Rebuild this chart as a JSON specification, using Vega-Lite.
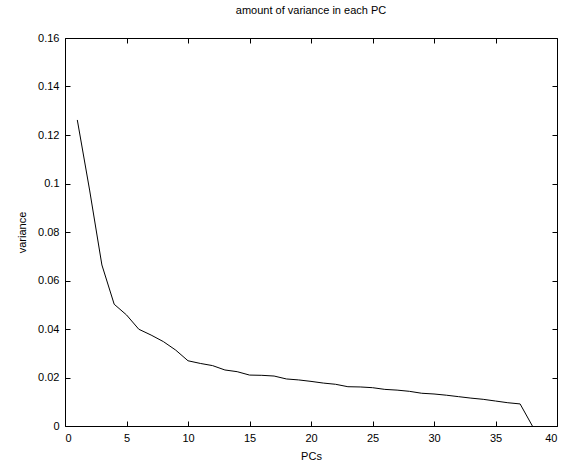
{
  "$schema": "https://vega.github.io/schema/vega-lite/v6.json",
  "width": 492,
  "height": 388,
  "autosize": "none",
  "padding": {"left": 65, "top": 38, "right": 10, "bottom": 42},
  "background": "white",
  "title": {"text": "amount of variance in each PC", "fontSize": 11, "font": "Liberation Sans", "fontWeight": "normal", "offset": 16, "color": "black"},
  "config": {
    "view": {"stroke": "black", "strokeWidth": 1},
    "axis": {"labelFont": "Liberation Sans", "titleFont": "Liberation Sans", "labelFontSize": 11, "titleFontSize": 11, "titleFontWeight": "normal", "labelColor": "black", "titleColor": "black", "tickColor": "black", "domainColor": "black", "grid": false, "domain": false}
  },
  "data": {"values": [
    {"pc": 1, "v": 0.1262}, {"pc": 2, "v": 0.0973}, {"pc": 3, "v": 0.0664}, {"pc": 4, "v": 0.0502},
    {"pc": 5, "v": 0.0458}, {"pc": 6, "v": 0.0399}, {"pc": 7, "v": 0.0375}, {"pc": 8, "v": 0.0348},
    {"pc": 9, "v": 0.0313}, {"pc": 10, "v": 0.0269}, {"pc": 11, "v": 0.0258}, {"pc": 12, "v": 0.0249},
    {"pc": 13, "v": 0.0231}, {"pc": 14, "v": 0.0224}, {"pc": 15, "v": 0.0210}, {"pc": 16, "v": 0.0209},
    {"pc": 17, "v": 0.0206}, {"pc": 18, "v": 0.0194}, {"pc": 19, "v": 0.0190}, {"pc": 20, "v": 0.0184},
    {"pc": 21, "v": 0.0177}, {"pc": 22, "v": 0.0172}, {"pc": 23, "v": 0.0162}, {"pc": 24, "v": 0.0161},
    {"pc": 25, "v": 0.0158}, {"pc": 26, "v": 0.0151}, {"pc": 27, "v": 0.0148}, {"pc": 28, "v": 0.0143},
    {"pc": 29, "v": 0.0135}, {"pc": 30, "v": 0.0132}, {"pc": 31, "v": 0.0127}, {"pc": 32, "v": 0.0121},
    {"pc": 33, "v": 0.0115}, {"pc": 34, "v": 0.0110}, {"pc": 35, "v": 0.0103}, {"pc": 36, "v": 0.0096},
    {"pc": 37, "v": 0.0091}, {"pc": 38, "v": 0.0}
  ]},
  "layer": [
    {
      "mark": {"type": "line", "color": "black", "strokeWidth": 1, "clip": true},
      "encoding": {
        "x": {"field": "pc", "type": "quantitative", "scale": {"domain": [0, 40], "nice": false, "zero": false},
              "axis": {"orient": "bottom", "values": [0,5,10,15,20,25,30,35,40], "title": "PCs", "tickSize": -5, "labelPadding": 11, "titlePadding": 7}},
        "y": {"field": "v", "type": "quantitative", "scale": {"domain": [0, 0.16], "nice": false, "zero": false},
              "axis": {"orient": "left", "values": [0,0.02,0.04,0.06,0.08,0.1,0.12,0.14,0.16], "format": "~g", "title": "variance", "tickSize": -5, "labelPadding": 11, "titlePadding": 10}}
      }
    },
    {
      "mark": {"type": "line", "opacity": 0},
      "encoding": {
        "x": {"field": "pc", "type": "quantitative", "scale": {"domain": [0, 40], "nice": false, "zero": false},
              "axis": {"orient": "top", "values": [0,5,10,15,20,25,30,35,40], "labels": false, "title": null, "tickSize": -5}},
        "y": {"field": "v", "type": "quantitative", "scale": {"domain": [0, 0.16], "nice": false, "zero": false},
              "axis": {"orient": "right", "values": [0,0.02,0.04,0.06,0.08,0.1,0.12,0.14,0.16], "labels": false, "title": null, "tickSize": -5}}
      }
    }
  ],
  "resolve": {"scale": {"x": "independent", "y": "independent"}}
}
